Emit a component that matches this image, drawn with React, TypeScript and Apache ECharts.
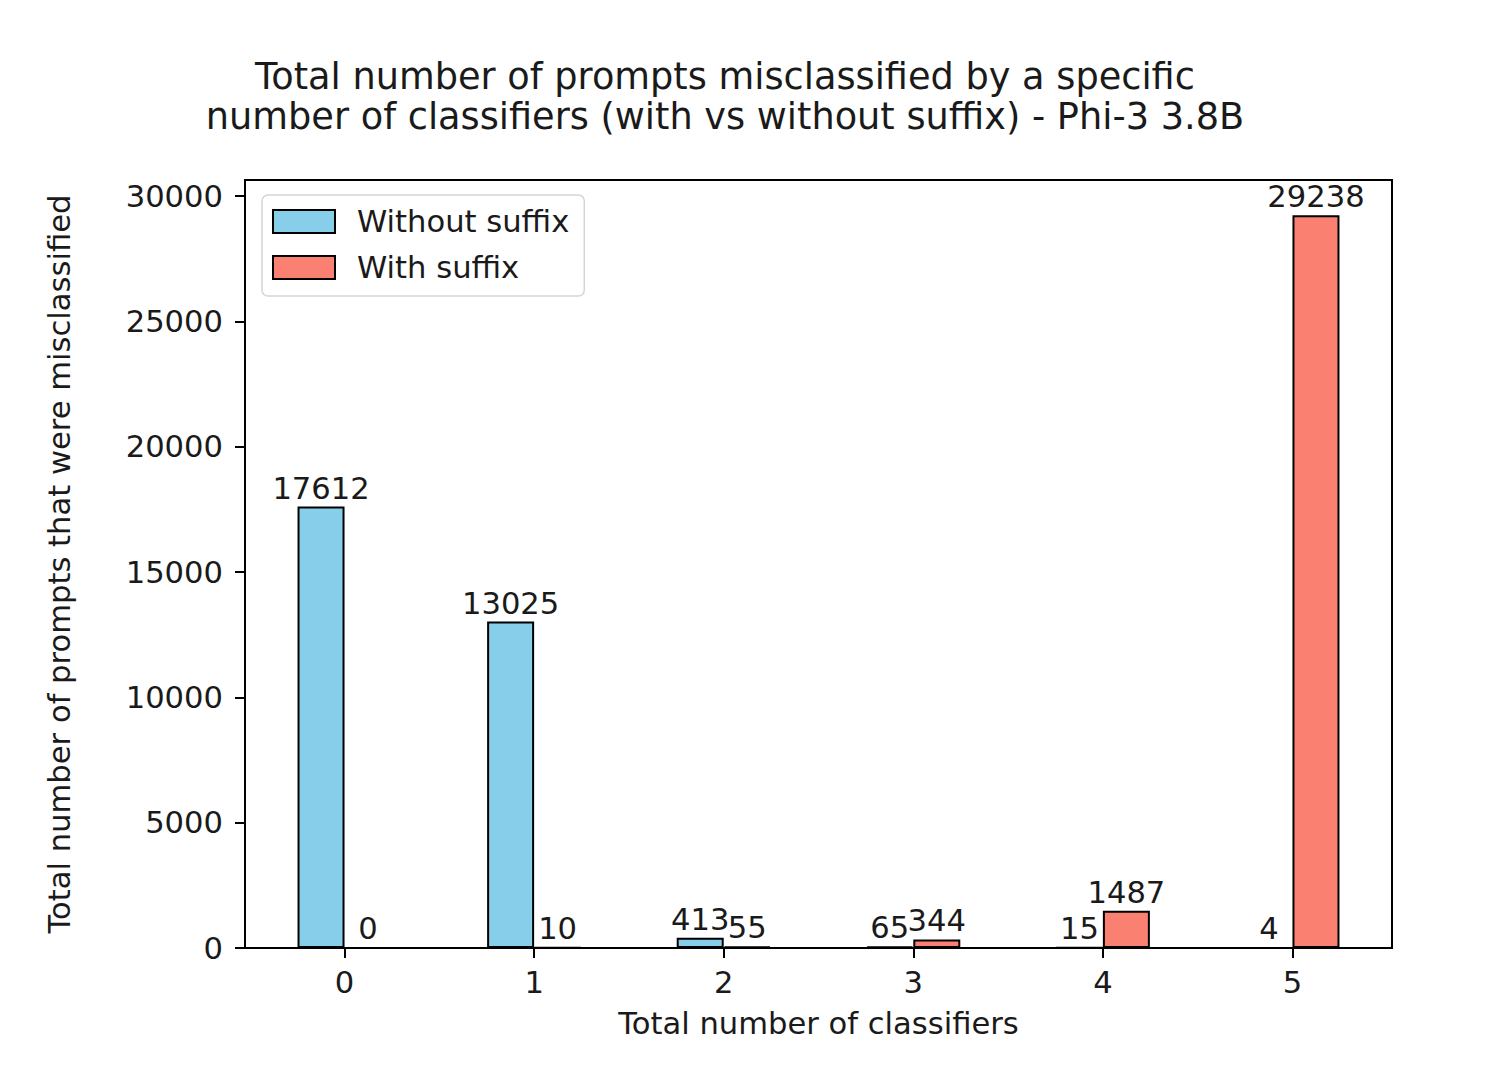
import React, { useEffect, useRef } from "react";
import * as echarts from "echarts";

const categories = [0, 1, 2, 3, 4, 5];
const withoutSuffix = [17612, 13025, 413, 65, 15, 4];
const withSuffix = [0, 10, 55, 344, 1487, 29238];
const yTicks = [0, 5000, 10000, 15000, 20000, 25000, 30000];
const seriesNames = ["Without suffix", "With suffix"];
const titleText =
  "Total number of prompts misclassified by a specific\nnumber of classifiers (with vs without suffix) - Phi-3 3.8B";
const xName = "Total number of classifiers";
const yName = "Total number of prompts that were misclassified";

const FONT = "DejaVu Sans";
const INK = "#1a1a1a";
const FS = 30.6;

export default function App() {
  const ref = useRef<HTMLDivElement>(null);
  useEffect(() => {
    if (!ref.current) return;
    const chart = echarts.init(ref.current, undefined, { renderer: "svg" });
    const mk = (name: string, vals: number[], color: string) => ({
      name,
      type: "bar",
      data: categories.map((c, i) => [c, vals[i]]),
      barWidth: 47,
      barGap: "0%",
      itemStyle: { color, borderColor: "#000", borderWidth: 2 },
      label: {
        show: true,
        position: "top",
        distance: 3,
        fontFamily: FONT,
        fontSize: FS,
        color: INK,
        formatter: (p: any) => String(p.value[1]),
      },
    });
    chart.setOption({
      animation: false,
      backgroundColor: "#fff",
      title: {
        text: titleText,
        left: 720,
        textAlign: "center",
        top: 51,
        textStyle: {
          fontFamily: FONT,
          fontSize: 36.7,
          fontWeight: "normal",
          color: INK,
          lineHeight: 40,
        },
      },
      legend: {
        orient: "vertical",
        left: 262,
        top: 195,
        itemWidth: 62,
        itemHeight: 23,
        itemGap: 15,
        padding: [11, 15, 13, 10],
        backgroundColor: "#fff",
        borderColor: "#d5d5d5",
        borderWidth: 1.5,
        borderRadius: 6,
        icon: "rect",
        itemStyle: { borderColor: "#000", borderWidth: 2 },
        textStyle: {
          fontFamily: FONT,
          fontSize: FS,
          color: INK,
          lineHeight: 23,
          padding: [0, 0, 0, 17],
        },
        data: seriesNames,
      },
      grid: {
        left: 245,
        right: 96,
        top: 180,
        bottom: 143,
        show: true,
        borderColor: "#000",
        borderWidth: 2,
        backgroundColor: "transparent",
      },
      xAxis: {
        type: "value",
        min: -0.525,
        max: 5.525,
        splitLine: { show: false },
        axisLine: { show: true, onZero: false, lineStyle: { color: "#000", width: 2 } },
        axisTick: {
          show: true,
          length: 10,
          lineStyle: { color: "#000", width: 2 },
          customValues: categories,
        },
        axisLabel: {
          customValues: categories,
          margin: 19,
          fontFamily: FONT,
          fontSize: FS,
          color: INK,
          formatter: (v: number) => String(v),
        },
        name: xName,
        nameLocation: "middle",
        nameGap: 60,
        nameTextStyle: { fontFamily: FONT, fontSize: FS, color: INK },
      },
      yAxis: {
        type: "value",
        min: 0,
        max: 30640,
        splitLine: { show: false },
        axisLine: { show: true, onZero: false, lineStyle: { color: "#000", width: 2 } },
        axisTick: {
          show: true,
          length: 10,
          lineStyle: { color: "#000", width: 2 },
          customValues: yTicks,
        },
        axisLabel: {
          customValues: yTicks,
          margin: 22,
          fontFamily: FONT,
          fontSize: FS,
          color: INK,
          formatter: (v: number) => String(v),
        },
        name: yName,
        nameLocation: "middle",
        nameGap: 170,
        nameTextStyle: { fontFamily: FONT, fontSize: FS, color: INK },
      },
      series: [
        mk(seriesNames[0], withoutSuffix, "#87CEEB"),
        mk(seriesNames[1], withSuffix, "#FA8072"),
      ],
    });
    return () => chart.dispose();
  }, []);
  return (
    <div
      ref={ref}
      style={{ position: "fixed", left: 0, top: 0, width: 1488, height: 1091 }}
    />
  );
}
